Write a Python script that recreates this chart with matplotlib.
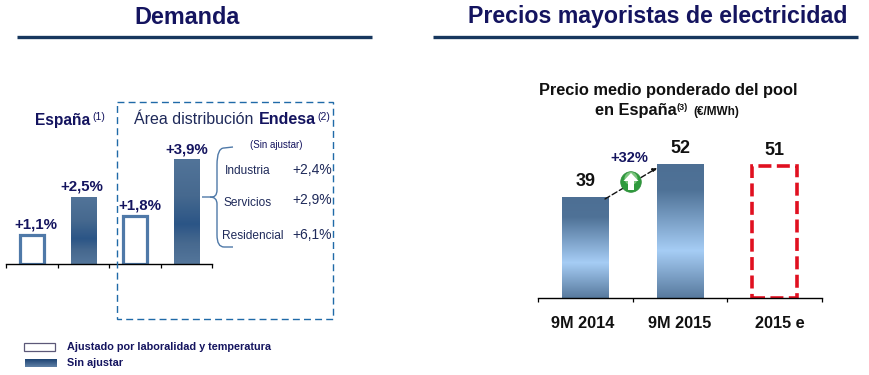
import numpy as np
import matplotlib
matplotlib.use("Agg")
import matplotlib.pyplot as plt
from matplotlib.colors import LinearSegmentedColormap
from matplotlib.patches import Rectangle, Circle, PathPatch, Polygon
from matplotlib.path import Path

plt.rcParams['font.family'] = ['Liberation Sans', 'DejaVu Sans']

# Data
demand_vals = [1.1, 2.5, 1.8, 3.9]
demand_labels = ['+1,1%', '+2,5%', '+1,8%', '+3,9%']
demand_hollow = [True, False, True, False]
sector_names = ['Industria', 'Servicios', 'Residencial']
sector_vals = ['+2,4%', '+2,9%', '+6,1%']
price_cats = ['9M 2014', '9M 2015', '2015 e']
price_vals = [39, 52, 51]
price_change = '+32%'

W, H = 870, 375
NAVY = '#14145f'
fig = plt.figure(figsize=(W / 100, H / 100), dpi=100, facecolor='white')

def px_axes(x0, x1, y_base, y_top):
    return fig.add_axes([x0 / W, 1 - y_base / H, (x1 - x0) / W, (y_base - y_top) / H])

ov = fig.add_axes([0, 0, 1, 1], zorder=5)
ov.set_xlim(0, W); ov.set_ylim(H, 0); ov.axis('off'); ov.patch.set_alpha(0)

cm_dark = LinearSegmentedColormap.from_list('d', [(0, '#527499'), (0.35, '#46698f'), (0.62, '#2b5586'), (0.8, '#47698f'), (1, '#54769b')])
cm_light = LinearSegmentedColormap.from_list('l', [(0, '#4d6f94'), (0.2, '#4f7297'), (0.65, '#a6cdf5'), (1, '#587a9e')])
grad = np.linspace(0, 1, 256).reshape(-1, 1)

def gradient_bar(ax, bar, cmap):
    x, y = bar.get_xy()
    w, h = bar.get_width(), bar.get_height()
    im = ax.imshow(grad, cmap=cmap, aspect='auto', extent=(x, x + w, y, y + h), zorder=2)
    im.set_clip_path(bar)

def base_axis(ax, n):
    ax.set_xlim(-0.5, n - 0.5)
    for s in ('top', 'left', 'right'):
        ax.spines[s].set_visible(False)
    ax.spines['bottom'].set_linewidth(1.0)
    ax.set_yticks([])
    ax.set_xticks(np.arange(n + 1) - 0.5)
    ax.set_xticklabels([])
    ax.tick_params(axis='x', length=3, width=0.9, color='black')
    ax.patch.set_alpha(0)

# Left chart
label_dx = [3.2, -0.8, 4.0, 0]
axL = px_axes(6, 212, 264, 100)
base_axis(axL, 4)
axL.set_ylim(0, 164 / 26.8)
for i, (v, lab, hollow) in enumerate(zip(demand_vals, demand_labels, demand_hollow)):
    if hollow:
        axL.bar(i, v, width=0.46, facecolor='white', edgecolor='#4f79a8', linewidth=2.3, zorder=2)
    else:
        b = axL.bar(i, v, width=0.49, color='none', zorder=2)[0]
        gradient_bar(axL, b, cm_dark)
    axL.annotate(lab, (i, v), xytext=(label_dx[i], 2.5), textcoords='offset points', ha='center', va='bottom',
                 fontsize=10.8, fontweight='bold', color=NAVY)
axL.set_xlim(-0.5, 3.5)
axL.set_ylim(0, 164 / 26.8)

# Right chart
axR = px_axes(538, 822, 298, 120)
base_axis(axR, 3)
axR.set_ylim(0, 178 / 2.58)
for i, v in enumerate(price_vals):
    if i < 2:
        b = axR.bar(i, v, width=0.49, color='none', zorder=2)[0]
        gradient_bar(axR, b, cm_light)
    else:
        axR.bar(i, v, width=0.47, facecolor='none', edgecolor='#e01020', linewidth=2.6,
                linestyle=(0, (3.6, 1.5)), zorder=2)
    axR.annotate(str(v), (i, v), xytext=(0, 5), textcoords='offset points', ha='center', va='bottom',
                 fontsize=13, fontweight='bold', color='#111111')
for i, c in enumerate(price_cats):
    axR.annotate(c, (i, 0), xytext=(-2 if i == 0 else (0 if i == 1 else 4), -13), textcoords='offset points',
                 ha='center', va='top', fontsize=11.7, fontweight='bold', color='#111111',
                 annotation_clip=False)
axR.set_xlim(-0.5, 2.5)
axR.set_ylim(0, 178 / 2.58)

# Section titles and rules
ov.text(187, 17, 'Demanda', ha='center', va='center', fontsize=16.8, fontweight='bold', color=NAVY)
ov.text(657.5, 17, 'Precios mayoristas de electricidad', ha='center', va='center', fontsize=16.7,
        fontweight='bold', color=NAVY)
ov.plot([17, 372], [36.5, 36.5], color='#17375e', lw=2.4, solid_capstyle='butt')
ov.plot([433, 858], [36.5, 36.5], color='#17375e', lw=2.4, solid_capstyle='butt')

# Left headings
ov.text(35, 120, 'España', ha='left', va='center', fontsize=11.2, fontweight='bold', color=NAVY)
ov.text(92, 117, '(1)', ha='left', va='center', fontsize=7.5, color=NAVY)
ov.text(134, 120, 'Área distribución', ha='left', va='center', fontsize=11.5, color='#1f2a5a')
ov.text(259, 120, 'Endesa', ha='left', va='center', fontsize=11.5, fontweight='bold', color=NAVY)
ov.text(317, 117, '(2)', ha='left', va='center', fontsize=7.5, color=NAVY)

# Dashed area
ov.add_patch(Rectangle((117.5, 102), 216, 216.5, fill=False, edgecolor='#1f6aa8', lw=1.0,
                       linestyle=(0, (5, 3))))

# Brace
verts = [(202, 197), (210, 197), (217, 198), (217, 190), (217, 165), (217, 148), (224, 148), (233, 147)]
codes = [Path.MOVETO, Path.LINETO, Path.CURVE3, Path.CURVE3, Path.LINETO, Path.CURVE3, Path.CURVE3, Path.LINETO]
ov.add_patch(PathPatch(Path(verts, codes), fill=False, edgecolor='#4f79a8', lw=1.0))
verts2 = [(210, 197), (217, 197), (217, 204), (217, 235), (217, 247), (224, 247), (233, 247)]
codes2 = [Path.MOVETO, Path.CURVE3, Path.CURVE3, Path.LINETO, Path.CURVE3, Path.CURVE3, Path.LINETO]
ov.add_patch(PathPatch(Path(verts2, codes2), fill=False, edgecolor='#4f79a8', lw=1.0))

ov.text(276, 144.5, '(Sin ajustar)', ha='center', va='center', fontsize=7, color=NAVY)
for name, cx, y in zip(sector_names, [248, 248, 253], [170.5, 202.5, 236]):
    ov.text(cx, y, name, ha='center', va='center', fontsize=8.6, color='#1f2a5a')
for val, y in zip(sector_vals, [169.5, 199.5, 235]):
    ov.text(332, y, val, ha='right', va='center', fontsize=10, color='#1f2a5a')

# Legend
ov.add_patch(Rectangle((24.5, 342.5), 31, 8.5, facecolor='white', edgecolor='#5c5878', lw=0.9))
ov.imshow(np.linspace(0, 1, 64).reshape(-1, 1),
          cmap=LinearSegmentedColormap.from_list('s', ['#1d4373', '#5f80a6']),
          extent=(25, 57, 367, 359), aspect='auto', zorder=3)
ov.set_xlim(0, W); ov.set_ylim(H, 0)
ov.text(67, 346.5, 'Ajustado por laboralidad y temperatura', ha='left', va='center', fontsize=7.8,
        fontweight='bold', color=NAVY)
ov.text(67, 363.5, 'Sin ajustar', ha='left', va='center', fontsize=7.8, fontweight='bold', color=NAVY)

# Right heading
ov.text(668, 90, 'Precio medio ponderado del pool', ha='center', va='center', fontsize=11.75,
        fontweight='bold', color='#111111')
ov.text(595, 111, 'en España', ha='left', va='center', fontsize=11.75, fontweight='bold', color='#111111')
ov.text(677, 108, '(3)', ha='left', va='center', fontsize=6.5, fontweight='bold', color='#111111')
ov.text(693, 112, '(€/MWh)', ha='left', va='center', fontsize=8.5, fontweight='bold', color='#111111')

# Growth arrow and badge
ov.annotate('', xy=(657, 168), xytext=(605, 199),
            arrowprops=dict(arrowstyle='-|>', color='#111111', lw=1.0, linestyle=(0, (4, 2)), mutation_scale=6,
                            shrinkA=0, shrinkB=0))
ov.text(629, 157.5, price_change, ha='center', va='center', fontsize=10.5, fontweight='bold', color=NAVY)
ov.add_patch(Circle((631, 182), 10.3, facecolor='#2f9a3d', edgecolor='#2a8a38', lw=0.5, zorder=6))
ov.add_patch(Circle((631, 178.5), 6.5, facecolor='#8fd08e', edgecolor='none', alpha=0.8, zorder=6))
ov.add_patch(Polygon([(631, 173), (638.5, 181), (634, 181), (634, 190), (628, 190), (628, 181), (623.5, 181)],
                     closed=True, facecolor='white', edgecolor='none', zorder=7))

fig.savefig('out.png', dpi=100)
